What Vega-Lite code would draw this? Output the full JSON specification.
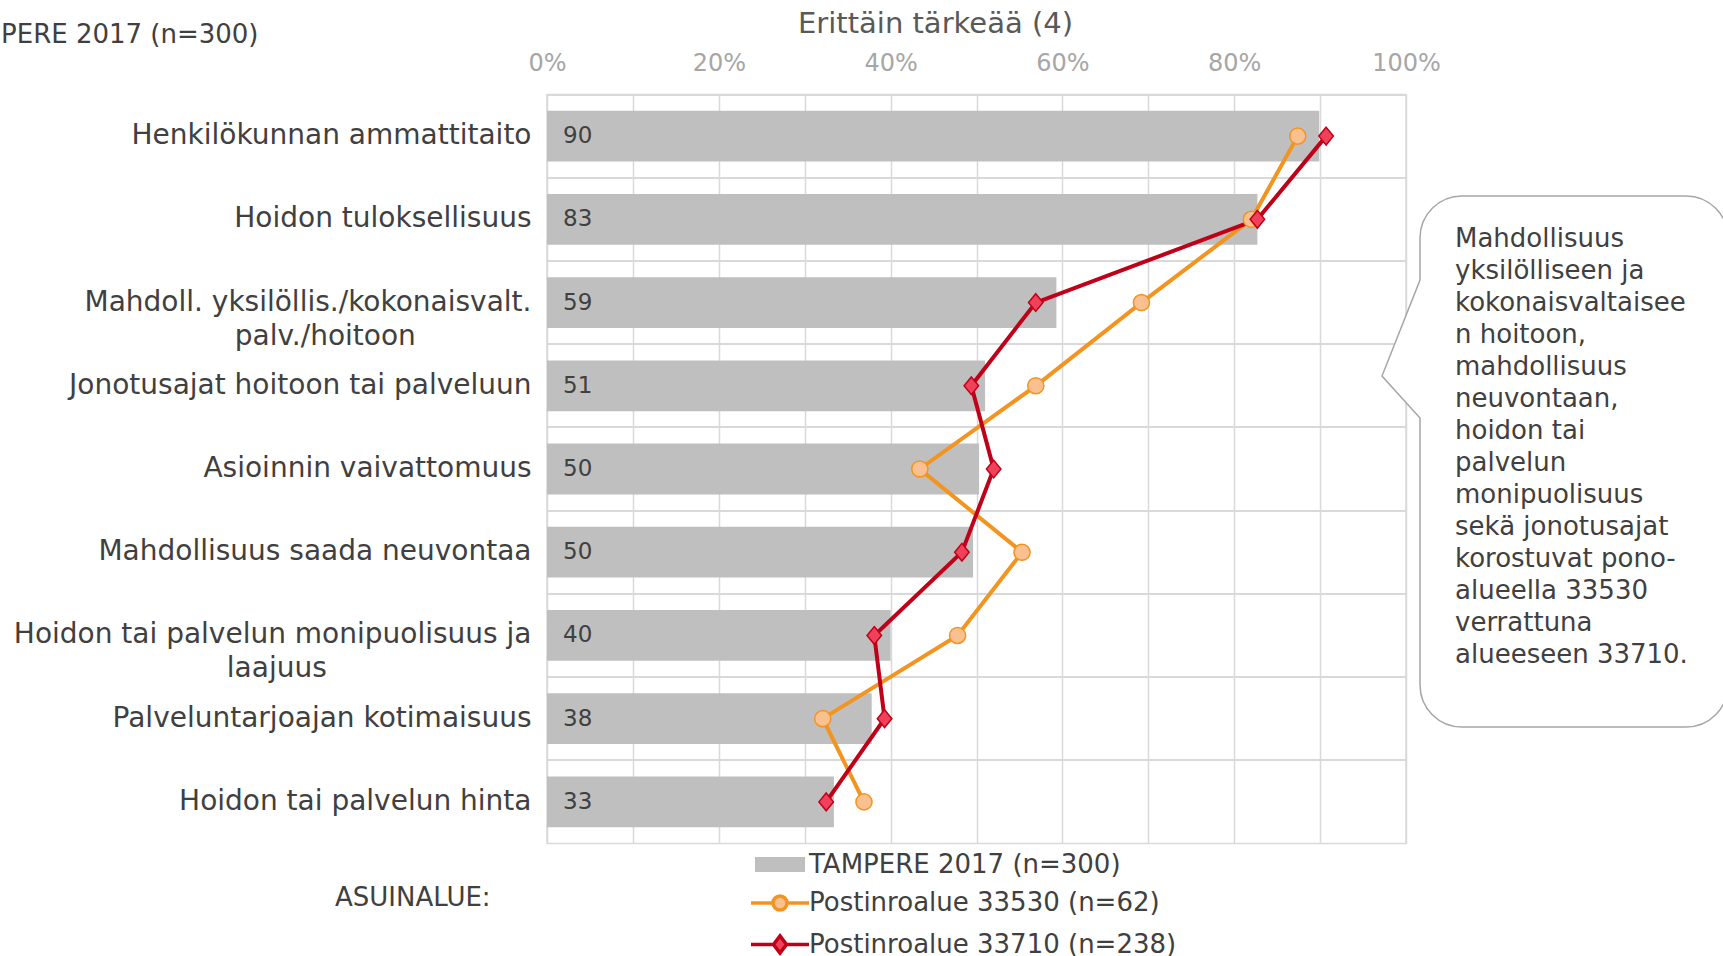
{
  "$schema": "https://vega.github.io/schema/vega-lite/v6.json",
  "width": 859,
  "height": 749,
  "autosize": {"type": "none"},
  "padding": {"left": 547, "top": 94.5, "right": 317, "bottom": 112.5},
  "background": "white",
  "config": {
    "font": "DejaVu Sans",
    "view": {"stroke": "#d9d9d9", "strokeWidth": 1.5},
    "axis": {"labelFont": "DejaVu Sans", "titleFont": "DejaVu Sans", "titleFontWeight": "normal"}
  },
  "data": {
    "values": [
      {"category": "Henkilökunnan ammattitaito", "series": "TAMPERE 2017 (n=300)", "value": 89.9},
      {"category": "Hoidon tuloksellisuus", "series": "TAMPERE 2017 (n=300)", "value": 82.7},
      {"category": "Mahdoll. yksilöllis./kokonaisvalt. palv./hoitoon", "series": "TAMPERE 2017 (n=300)", "value": 59.3},
      {"category": "Jonotusajat hoitoon tai palveluun", "series": "TAMPERE 2017 (n=300)", "value": 51.0},
      {"category": "Asioinnin vaivattomuus", "series": "TAMPERE 2017 (n=300)", "value": 50.3},
      {"category": "Mahdollisuus saada neuvontaa", "series": "TAMPERE 2017 (n=300)", "value": 49.6},
      {"category": "Hoidon tai palvelun monipuolisuus ja laajuus", "series": "TAMPERE 2017 (n=300)", "value": 40.0},
      {"category": "Palveluntarjoajan kotimaisuus", "series": "TAMPERE 2017 (n=300)", "value": 37.8},
      {"category": "Hoidon tai palvelun hinta", "series": "TAMPERE 2017 (n=300)", "value": 33.4},
      {"category": "Henkilökunnan ammattitaito", "series": "Postinroalue 33530 (n=62)", "value": 87.4},
      {"category": "Hoidon tuloksellisuus", "series": "Postinroalue 33530 (n=62)", "value": 82.0},
      {"category": "Mahdoll. yksilöllis./kokonaisvalt. palv./hoitoon", "series": "Postinroalue 33530 (n=62)", "value": 69.2},
      {"category": "Jonotusajat hoitoon tai palveluun", "series": "Postinroalue 33530 (n=62)", "value": 56.9},
      {"category": "Asioinnin vaivattomuus", "series": "Postinroalue 33530 (n=62)", "value": 43.4},
      {"category": "Mahdollisuus saada neuvontaa", "series": "Postinroalue 33530 (n=62)", "value": 55.3},
      {"category": "Hoidon tai palvelun monipuolisuus ja laajuus", "series": "Postinroalue 33530 (n=62)", "value": 47.8},
      {"category": "Palveluntarjoajan kotimaisuus", "series": "Postinroalue 33530 (n=62)", "value": 32.1},
      {"category": "Hoidon tai palvelun hinta", "series": "Postinroalue 33530 (n=62)", "value": 36.9},
      {"category": "Henkilökunnan ammattitaito", "series": "Postinroalue 33710 (n=238)", "value": 90.7},
      {"category": "Hoidon tuloksellisuus", "series": "Postinroalue 33710 (n=238)", "value": 82.7},
      {"category": "Mahdoll. yksilöllis./kokonaisvalt. palv./hoitoon", "series": "Postinroalue 33710 (n=238)", "value": 56.9},
      {"category": "Jonotusajat hoitoon tai palveluun", "series": "Postinroalue 33710 (n=238)", "value": 49.4},
      {"category": "Asioinnin vaivattomuus", "series": "Postinroalue 33710 (n=238)", "value": 52.0},
      {"category": "Mahdollisuus saada neuvontaa", "series": "Postinroalue 33710 (n=238)", "value": 48.3},
      {"category": "Hoidon tai palvelun monipuolisuus ja laajuus", "series": "Postinroalue 33710 (n=238)", "value": 38.1},
      {"category": "Palveluntarjoajan kotimaisuus", "series": "Postinroalue 33710 (n=238)", "value": 39.3},
      {"category": "Hoidon tai palvelun hinta", "series": "Postinroalue 33710 (n=238)", "value": 32.5}
    ]
  },
  "layer": [
    {
      "transform": [{"filter": "datum.series == 'TAMPERE 2017 (n=300)'"}],
      "mark": {"type": "bar", "height": {"band": 0.61}, "opacity": 1},
      "encoding": {
        "y": {
          "field": "category", "type": "nominal",
          "sort": ["Henkilökunnan ammattitaito", "Hoidon tuloksellisuus", "Mahdoll. yksilöllis./kokonaisvalt. palv./hoitoon", "Jonotusajat hoitoon tai palveluun", "Asioinnin vaivattomuus", "Mahdollisuus saada neuvontaa", "Hoidon tai palvelun monipuolisuus ja laajuus", "Palveluntarjoajan kotimaisuus", "Hoidon tai palvelun hinta"],
          "scale": {"domain": ["Henkilökunnan ammattitaito", "Hoidon tuloksellisuus", "Mahdoll. yksilöllis./kokonaisvalt. palv./hoitoon", "Jonotusajat hoitoon tai palveluun", "Asioinnin vaivattomuus", "Mahdollisuus saada neuvontaa", "Hoidon tai palvelun monipuolisuus ja laajuus", "Palveluntarjoajan kotimaisuus", "Hoidon tai palvelun hinta"], "paddingInner": 0, "paddingOuter": 0},
          "axis": {
            "title": "TAMPERE 2017 (n=300)", "titleAngle": 0, "titleAlign": "right", "titleBaseline": "middle",
            "titleX": -289, "titleY": -60, "titleFontSize": 26, "titleColor": "#404040",
            "labelFontSize": 28, "labelColor": "#404040", "labelPadding": 16, "labelLimit": 0,
            "labelBound": false, "labelOverlap": false, "labelLineHeight": 34,
            "ticks": false, "domain": false, "grid": true, "gridColor": "#d9d9d9", "gridWidth": 2,
            "bandPosition": 0,
            "labelExpr": "datum.value == 'Mahdoll. yksilöllis./kokonaisvalt. palv./hoitoon' ? ['Mahdoll. yksilöllis./kokonaisvalt.', 'palv./hoitoon\u00a0\u00a0\u00a0\u00a0\u00a0\u00a0\u00a0\u00a0\u00a0\u00a0\u00a0\u00a0\u00a0\u200b'] : datum.value == 'Hoidon tai palvelun monipuolisuus ja laajuus' ? ['Hoidon tai palvelun monipuolisuus ja', 'laajuus\u00a0\u00a0\u00a0\u00a0\u00a0\u00a0\u00a0\u00a0\u00a0\u00a0\u00a0\u00a0\u00a0\u00a0\u00a0\u00a0\u00a0\u00a0\u00a0\u00a0\u00a0\u00a0\u00a0\u200b'] : datum.label"
          }
        },
        "x": {
          "field": "value", "type": "quantitative",
          "scale": {"domain": [0, 100], "nice": false},
          "axis": {
            "orient": "top", "values": [0, 10, 20, 30, 40, 50, 60, 70, 80, 90, 100],
            "labelExpr": "datum.value % 20 == 0 ? datum.value + '%' : ''",
            "labelFontSize": 24, "labelColor": "#a6a6a6", "labelPadding": 19, "labelFlush": false,
            "ticks": false, "domain": false, "grid": true, "gridColor": "#d9d9d9", "gridWidth": 1.5,
            "title": "Erittäin tärkeää (4)", "titleFontSize": 29, "titleColor": "#595959",
            "titleX": 388, "titleY": -71.5, "titleBaseline": "middle", "titleAlign": "center"
          }
        },
        "fill": {
          "field": "series", "type": "nominal",
          "scale": {"domain": ["TAMPERE 2017 (n=300)", "Postinroalue 33530 (n=62)", "Postinroalue 33710 (n=238)"], "range": ["#bfbfbf", "#fac090", "#f0405a"]},
          "legend": {
            "title": "ASUINALUE:",
            "orient": "none", "legendX": -212, "legendY": 757,
            "direction": "vertical",
            "titleOrient": "left", "titleAnchor": "middle", "titleBaseline": "alphabetic", "titlePadding": 256,
            "titleFontSize": 26, "titleFontWeight": "normal", "titleColor": "#404040", "titleFont": "DejaVu Sans", "titleLimit": 0,
            "labelFontSize": 26, "labelColor": "#404040", "labelFont": "DejaVu Sans", "labelLimit": 0, "labelOffset": 16,
            "symbolSize": 400, "symbolOffset": 20, "symbolStrokeWidth": 3.5, "symbolOpacity": 1,
            "rowPadding": 11.5, "padding": 0
          }
        }
      }
    },
    {
      "transform": [{"filter": "datum.series == 'TAMPERE 2017 (n=300)'"}],
      "mark": {"type": "text", "align": "left", "baseline": "middle", "dx": 16, "fontSize": 23, "color": "#404040", "font": "DejaVu Sans"},
      "encoding": {
        "y": {"field": "category", "type": "nominal", "sort": ["Henkilökunnan ammattitaito", "Hoidon tuloksellisuus", "Mahdoll. yksilöllis./kokonaisvalt. palv./hoitoon", "Jonotusajat hoitoon tai palveluun", "Asioinnin vaivattomuus", "Mahdollisuus saada neuvontaa", "Hoidon tai palvelun monipuolisuus ja laajuus", "Palveluntarjoajan kotimaisuus", "Hoidon tai palvelun hinta"]},
        "x": {"datum": 0, "type": "quantitative"},
        "text": {"field": "value", "type": "quantitative", "format": ".0f"}
      }
    },
    {
      "transform": [{"filter": "datum.series != 'TAMPERE 2017 (n=300)'"}],
      "mark": {"type": "line", "strokeWidth": 4},
      "encoding": {
        "y": {"field": "category", "type": "nominal", "sort": ["Henkilökunnan ammattitaito", "Hoidon tuloksellisuus", "Mahdoll. yksilöllis./kokonaisvalt. palv./hoitoon", "Jonotusajat hoitoon tai palveluun", "Asioinnin vaivattomuus", "Mahdollisuus saada neuvontaa", "Hoidon tai palvelun monipuolisuus ja laajuus", "Palveluntarjoajan kotimaisuus", "Hoidon tai palvelun hinta"]},
        "x": {"field": "value", "type": "quantitative"},
        "stroke": {
          "field": "series", "type": "nominal",
          "scale": {"domain": ["TAMPERE 2017 (n=300)", "Postinroalue 33530 (n=62)", "Postinroalue 33710 (n=238)"], "range": ["#bfbfbf", "#f39420", "#c00018"]}
        },
        "order": {"value": null}
      }
    },
    {
      "transform": [{"filter": "datum.series == 'TAMPERE 2017 (n=300)'"}],
      "mark": {"type": "point", "opacity": 0, "filled": true, "size": 10},
      "encoding": {
        "y": {"field": "category", "type": "nominal", "sort": ["Henkilökunnan ammattitaito", "Hoidon tuloksellisuus", "Mahdoll. yksilöllis./kokonaisvalt. palv./hoitoon", "Jonotusajat hoitoon tai palveluun", "Asioinnin vaivattomuus", "Mahdollisuus saada neuvontaa", "Hoidon tai palvelun monipuolisuus ja laajuus", "Palveluntarjoajan kotimaisuus", "Hoidon tai palvelun hinta"]},
        "x": {"datum": 0, "type": "quantitative"},
        "shape": {
          "field": "series", "type": "nominal",
          "scale": {"domain": ["TAMPERE 2017 (n=300)", "Postinroalue 33530 (n=62)", "Postinroalue 33710 (n=238)"], "range": ["M-2.33,-0.58H2.33V0.58H-2.33Z", "M-2.9,0H-0.7M-0.7,0A0.7,0.7 0 1,1 0.7,0A0.7,0.7 0 1,1 -0.7,0ZM0.7,0H2.9", "M-2.9,0H-0.65M-0.65,0L0,-0.85L0.65,0L0,0.85ZM0.65,0H2.9"]}
        }
      }
    },
    {
      "transform": [{"filter": "datum.series == 'Postinroalue 33530 (n=62)'"}],
      "mark": {"type": "point", "shape": "circle", "filled": true, "strokeWidth": 1.5, "opacity": 1, "size": 260},
      "encoding": {
        "y": {"field": "category", "type": "nominal", "sort": ["Henkilökunnan ammattitaito", "Hoidon tuloksellisuus", "Mahdoll. yksilöllis./kokonaisvalt. palv./hoitoon", "Jonotusajat hoitoon tai palveluun", "Asioinnin vaivattomuus", "Mahdollisuus saada neuvontaa", "Hoidon tai palvelun monipuolisuus ja laajuus", "Palveluntarjoajan kotimaisuus", "Hoidon tai palvelun hinta"]},
        "x": {"field": "value", "type": "quantitative"},
        "fill": {"field": "series", "type": "nominal"},
        "stroke": {"field": "series", "type": "nominal"}
      }
    },
    {
      "transform": [{"filter": "datum.series == 'Postinroalue 33710 (n=238)'"}],
      "mark": {"type": "point", "shape": "M0,-1.1L0.9,0L0,1.1L-0.9,0Z", "filled": true, "strokeWidth": 1.5, "opacity": 1, "size": 260},
      "encoding": {
        "y": {"field": "category", "type": "nominal", "sort": ["Henkilökunnan ammattitaito", "Hoidon tuloksellisuus", "Mahdoll. yksilöllis./kokonaisvalt. palv./hoitoon", "Jonotusajat hoitoon tai palveluun", "Asioinnin vaivattomuus", "Mahdollisuus saada neuvontaa", "Hoidon tai palvelun monipuolisuus ja laajuus", "Palveluntarjoajan kotimaisuus", "Hoidon tai palvelun hinta"]},
        "x": {"field": "value", "type": "quantitative"},
        "fill": {"field": "series", "type": "nominal"},
        "stroke": {"field": "series", "type": "nominal"}
      }
    },
    {
      "data": {"values": [{"note": "callout"}]},
      "mark": {"type": "point", "shape": "M14,-189V-231A42,42 0 0,1 56,-273H280A42,42 0 0,1 322,-231V216A42,42 0 0,1 280,258H56A42,42 0 0,1 14,216V-51L-24,-93Z", "size": 4, "filled": true, "fill": "white", "stroke": "#a6a6a6", "strokeWidth": 1.5, "opacity": 1},
      "encoding": {
        "x": {"datum": 100, "type": "quantitative"},
        "y": {"datum": "Asioinnin vaivattomuus", "type": "nominal"}
      }
    },
    {
      "data": {"values": [{"note": "Mahdollisuus\nyksilölliseen ja\nkokonaisvaltaisee\nn hoitoon,\nmahdollisuus\nneuvontaan,\nhoidon tai\npalvelun\nmonipuolisuus\nsekä jonotusajat\nkorostuvat pono-\nalueella 33530\nverrattuna\nalueeseen 33710."}]},
      "mark": {"type": "text", "align": "left", "baseline": "middle", "lineBreak": "\n", "lineHeight": 32, "fontSize": 26, "color": "#404040", "font": "DejaVu Sans", "dx": 49, "dy": -230.5},
      "encoding": {
        "x": {"datum": 100, "type": "quantitative"},
        "y": {"datum": "Asioinnin vaivattomuus", "type": "nominal"},
        "text": {"field": "note", "type": "nominal"}
      }
    }
  ]
}
